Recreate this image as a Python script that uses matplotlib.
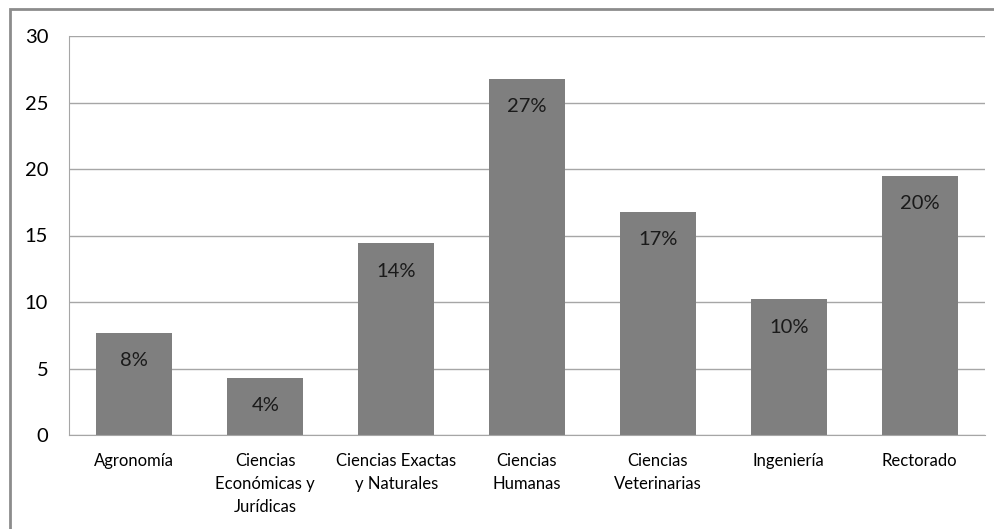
import matplotlib.pyplot as plt
from matplotlib.patches import Rectangle

categories = [
    "Agronomía",
    "Ciencias\nEconómicas y\nJurídicas",
    "Ciencias Exactas\ny Naturales",
    "Ciencias\nHumanas",
    "Ciencias\nVeterinarias",
    "Ingeniería",
    "Rectorado",
]
values = [7.7, 4.3, 14.4, 26.8, 16.8, 10.2, 19.5]
pct_labels = ["8%", "4%", "14%", "27%", "17%", "10%", "20%"]
yticks = [0, 5, 10, 15, 20, 25, 30]

plt.rcParams["font.family"] = ["Lato", "DejaVu Sans"]

fig = plt.figure(figsize=(9.95, 5.29), dpi=100)
ax = fig.add_axes([69 / 995, 1 - 435 / 529, (985 - 69) / 995, (435 - 36) / 529])

# outer chart frame (bottom and right are cut off in the original)
fig.patches.append(
    Rectangle((10 / 995, -0.1), 1.2, (529 - 9) / 529 + 0.1,
              transform=fig.transFigure, fill=False,
              edgecolor="#8c8c8c", linewidth=2)
)

x = range(len(categories))
ax.bar(x, values, width=0.58, color="#7f7f7f", zorder=2)

for xi, v, lab in zip(x, values, pct_labels):
    ax.annotate(lab, (xi, v), xytext=(0, -28), textcoords="offset pixels",
                ha="center", va="center", fontsize=14.5, color="#1a1a1a", zorder=3)

ax.set_xlim(-0.5, len(categories) - 0.5)
ax.set_ylim(0, 30)
ax.set_yticks(yticks)
ax.set_xticks(list(x))
ax.set_xticklabels(categories, fontsize=12, linespacing=1.55, va="top")
ax.tick_params(axis="y", length=0, pad=15, labelsize=14.5)
ax.tick_params(axis="x", length=0, pad=13)
ax.grid(axis="y", color="#a6a6a6", linewidth=1, zorder=0)
ax.set_axisbelow(True)

for s in ["top", "right"]:
    ax.spines[s].set_visible(False)
ax.spines["left"].set_color("#a6a6a6")
ax.spines["bottom"].set_color("#a6a6a6")

fig.savefig("out.png", dpi=100)
